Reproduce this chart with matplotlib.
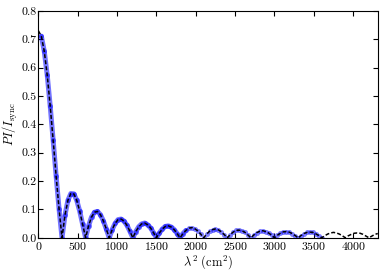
import numpy as np
import matplotlib
matplotlib.use('Agg')
import matplotlib.pyplot as plt

plt.rcParams['font.family'] = 'serif'
plt.rcParams['font.serif'] = ['cmr10']
plt.rcParams['mathtext.fontset'] = 'cm'
plt.rcParams['axes.unicode_minus'] = False
plt.rcParams['axes.formatter.use_mathtext'] = True

# ------------------------------------
# DATA
# ------------------------------------
lam2 = [0, 37.5, 75, 112.5, 150, 187.5, 225, 262.5, 300, 337.5,
        375, 412.5, 450, 487.5, 525, 562.5, 600, 637.5, 675, 712.5,
        750, 787.5, 825, 862.5, 900, 937.5, 975, 1012.5, 1050, 1087.5,
        1125, 1162.5, 1200, 1237.5, 1275, 1312.5, 1350, 1387.5, 1425, 1462.5,
        1500, 1537.5, 1575, 1612.5, 1650, 1687.5, 1725, 1762.5, 1800, 1837.5,
        1875, 1912.5, 1950, 1987.5, 2025, 2062.5, 2100, 2137.5, 2175, 2212.5,
        2250, 2287.5, 2325, 2362.5, 2400, 2437.5, 2475, 2512.5, 2550, 2587.5,
        2625, 2662.5, 2700, 2737.5, 2775, 2812.5, 2850, 2887.5, 2925, 2962.5,
        3000, 3037.5, 3075, 3112.5, 3150, 3187.5, 3225, 3262.5, 3300, 3337.5,
        3375, 3412.5, 3450, 3487.5, 3525, 3562.5, 3600, 3637.5, 3675, 3712.5,
        3750, 3787.5, 3825, 3862.5, 3900, 3937.5, 3975, 4012.5, 4050, 4087.5,
        4125, 4162.5, 4200, 4237.5, 4275, 4312.5]

p_frac = [0.730, 0.711, 0.657, 0.573, 0.465, 0.344, 0.219, 0.102, 0.000, 0.079,
          0.132, 0.156, 0.155, 0.132, 0.094, 0.047, 0.000, 0.042, 0.073, 0.090,
          0.093, 0.082, 0.060, 0.031, 0.000, 0.029, 0.051, 0.064, 0.066, 0.059,
          0.044, 0.023, 0.000, 0.022, 0.039, 0.049, 0.052, 0.046, 0.035, 0.018,
          0.000, 0.017, 0.031, 0.040, 0.042, 0.038, 0.029, 0.015, 0.000, 0.015,
          0.026, 0.034, 0.036, 0.032, 0.024, 0.013, 0.000, 0.013, 0.023, 0.029,
          0.031, 0.028, 0.021, 0.011, 0.000, 0.011, 0.020, 0.026, 0.027, 0.025,
          0.019, 0.010, 0.000, 0.010, 0.018, 0.023, 0.025, 0.022, 0.017, 0.009,
          0.000, 0.009, 0.016, 0.021, 0.022, 0.020, 0.015, 0.008, 0.000, 0.008,
          0.015, 0.019, 0.020, 0.019, 0.014, 0.008, 0.000, 0.007, 0.013, 0.017,
          0.019, 0.017, 0.013, 0.007, 0.000, 0.007, 0.012, 0.016, 0.017, 0.016,
          0.012, 0.006, 0.000, 0.006, 0.012, 0.015]

lam2_data_min, lam2_data_max = 30, 3600
lam2_dense_max = 1900

x = np.array(lam2)
y = np.array(p_frac)

fig = plt.figure(figsize=(3.82, 2.73), dpi=100)
ax = fig.add_axes([0.1005, 0.129, 0.889, 0.831])

# Observed data (blue, overlapping points)
dense = (x >= lam2_data_min) & (x <= lam2_dense_max)
sparse = (x >= lam2_data_min) & (x <= lam2_data_max)
ax.plot(x[dense], y[dense], color='blue', lw=3.6, alpha=0.55,
        solid_capstyle='round', zorder=2)
ax.plot(x[sparse], y[sparse], 'o', color='blue', ms=3.6, alpha=0.5,
        mec='none', zorder=2)

# Model (black dashed)
ax.plot(x, y, color='black', lw=1.1, ls='--', dashes=(2.6, 1.4), zorder=3)

# --- FORMATTING ---
ax.set_xlim(0, 4315)
ax.set_ylim(0, 0.8)
ax.set_xticks(np.arange(0, 4001, 500))
ax.set_yticks(np.arange(0, 0.81, 0.1))
ax.set_yticklabels(['%.1f' % v for v in np.arange(0, 0.81, 0.1)])
ax.tick_params(direction='in', top=True, right=True, length=3.5, width=0.8,
               labelsize=8.5, pad=1.5)
for s in ax.spines.values():
    s.set_linewidth(0.8)

ax.set_xlabel(r'$\lambda^2\ (\mathrm{cm}^2)$', fontsize=9, labelpad=1)
ax.set_ylabel(r'$PI/I_{\rm sync}$', fontsize=9, labelpad=1)

fig.savefig('out.png', dpi=100)
